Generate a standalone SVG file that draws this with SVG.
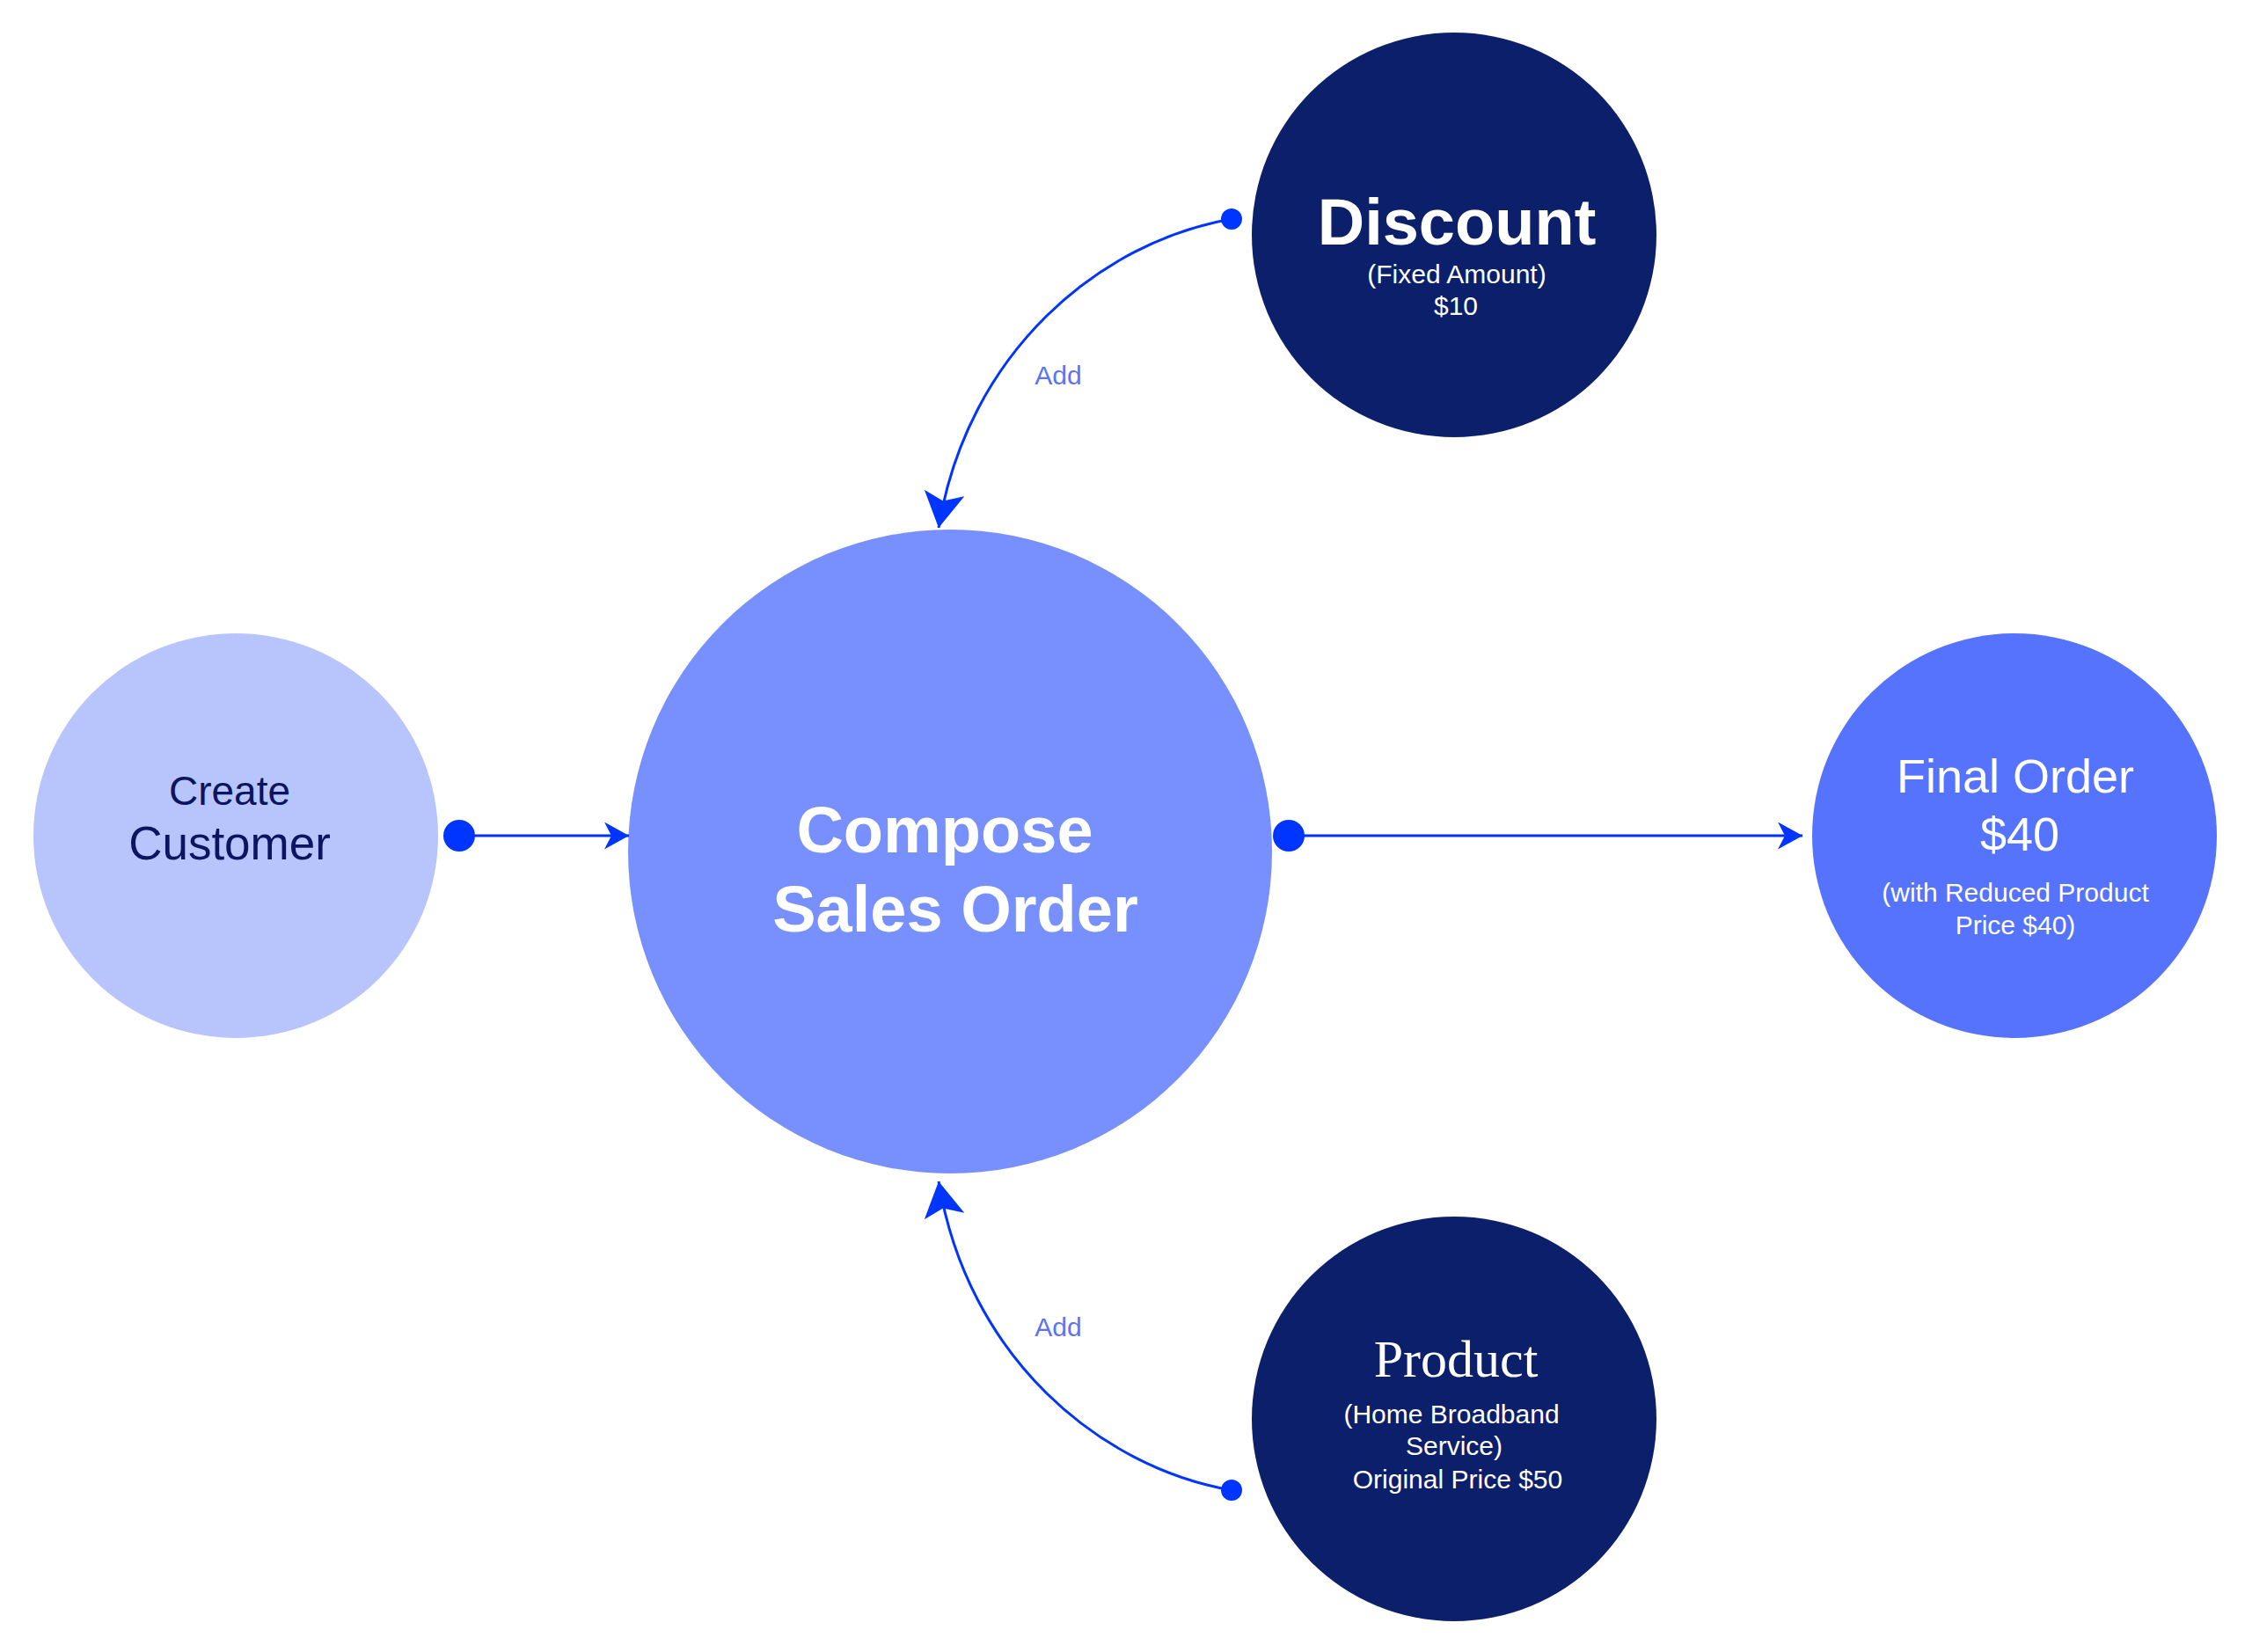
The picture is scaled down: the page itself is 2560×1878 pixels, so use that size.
<svg xmlns="http://www.w3.org/2000/svg" width="2560" height="1878" viewBox="0 0 2560 1878">
<style>
text{font-family:"Liberation Sans",Arial,sans-serif;text-anchor:middle}
.w{fill:#ffffff}
.b{font-weight:bold}
.s30{font-size:30px}
.lbl{fill:#5a73f7;font-size:30px}
.conn{fill:none;stroke:#0034ff;stroke-width:3}
.dot{fill:#0034ff}
</style>
<defs>
<marker id="arrBig" markerUnits="userSpaceOnUse" viewBox="0 0 40 46" markerWidth="40" markerHeight="46" refX="40" refY="23" orient="auto">
<path d="M0,0 L40,23 L0,46 L9,23 Z" fill="#0034ff"/>
</marker>
<marker id="arrSmall" markerUnits="userSpaceOnUse" viewBox="0 0 28 31" markerWidth="28" markerHeight="31" refX="28" refY="15.5" orient="auto">
<path d="M0,0 L28,15.5 L0,31 L8,15.5 Z" fill="#0034ff"/>
</marker>
</defs>
<rect width="2560" height="1878" fill="#ffffff"/>
<g id="discount">
<circle cx="1653" cy="267" r="230" fill="#0c1f6b"/>
<text class="w b" x="1656" y="278" font-size="74">Discount</text>
<text class="w s30" x="1656" y="322">(Fixed Amount)</text>
<text class="w s30" x="1655" y="358">$10</text>
</g>
<g id="compose">
<circle cx="1080" cy="968" r="366" fill="#7790fd"/>
<text class="w b" x="1074" y="969" font-size="74">Compose</text>
<text class="w b" x="1086" y="1059" font-size="74">Sales Order</text>
</g>
<g id="create">
<circle cx="268" cy="950" r="230" fill="#b8c5fd"/>
<text x="261" y="915" font-size="46" fill="#0b1560">Create</text>
<text x="261" y="977" font-size="53" fill="#0b1560">Customer</text>
</g>
<g id="final">
<circle cx="2290" cy="950" r="230" fill="#5573fd"/>
<text class="w" x="2291" y="901" font-size="54">Final Order</text>
<text class="w" x="2296" y="967" font-size="54">$40</text>
<text class="w s30" x="2291" y="1025">(with Reduced Product</text>
<text class="w s30" x="2291" y="1062">Price $40)</text>
</g>
<g id="product">
<circle cx="1653" cy="1613" r="230" fill="#0c1f6b"/>
<text class="w" x="1655" y="1565" font-size="60" style="font-family:'Liberation Serif','Times New Roman',serif">Product</text>
<text class="w s30" x="1650" y="1618">(Home Broadband</text>
<text class="w s30" x="1653" y="1654">Service)</text>
<text class="w s30" x="1657" y="1692">Original Price $50</text>
</g>
<g id="connectors">
<path class="conn" d="M1400,249 C1250,275 1100,400 1067,600" marker-end="url(#arrBig)"/>
<circle class="dot" cx="1400" cy="249" r="12"/>
<text class="lbl" x="1203" y="437">Add</text>
<path class="conn" d="M1400,1694 C1250,1668 1100,1543 1067,1343" marker-end="url(#arrBig)"/>
<circle class="dot" cx="1400" cy="1694" r="12"/>
<text class="lbl" x="1203" y="1519">Add</text>
<path class="conn" d="M522,950 L715,950" marker-end="url(#arrSmall)"/>
<circle class="dot" cx="522" cy="950" r="18"/>
<path class="conn" d="M1465,950 L2049,950" marker-end="url(#arrSmall)"/>
<circle class="dot" cx="1465" cy="950" r="18"/>
</g>
</svg>
